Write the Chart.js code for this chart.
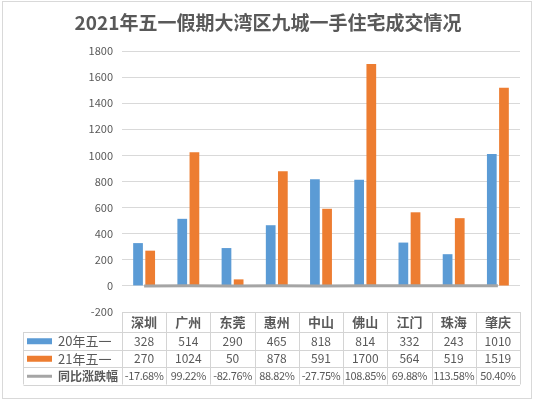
<!DOCTYPE html>
<html>
<head>
<meta charset="utf-8">
<script src="https://cdn.jsdelivr.net/npm/chart.js@4"></script>
<style>
  html, body { margin: 0; padding: 0; background: #fff; }
  #wrap { position: relative; width: 535px; height: 401px; }
</style>
</head>
<body>
<div id="wrap"><canvas id="chart" width="535" height="401"></canvas></div>
<script>
// chart data
const titleText = "2021年五一假期大湾区九城一手住宅成交情况";
const cities = ["深圳", "广州", "东莞", "惠州", "中山", "佛山", "江门", "珠海", "肇庆"];
const seriesNames = ["20年五一", "21年五一", "同比涨跌幅"];
const sales2020 = [328, 514, 290, 465, 818, 814, 332, 243, 1010];
const sales2021 = [270, 1024, 50, 878, 591, 1700, 564, 519, 1519];
const changePct = [-17.68, 99.22, -82.76, 88.82, -27.75, 108.85, 69.88, 113.58, 50.40];
const yTicks = { min: -200, max: 1800, step: 200 };

const FONT = '"Noto Sans CJK SC", "Noto Sans", sans-serif';
const TEXT = "#595959";
const BLUE = "#5b9bd5";
const ORANGE = "#ed7d31";
const GRAY = "#a5a5a5";
const LINE = "#d4d4d4";

// frame + title
const framePlugin = {
    id: "frame",
    beforeDraw(chart) {
        const ctx = chart.ctx;
        ctx.save();
        ctx.fillStyle = "#fff";
        ctx.fillRect(0, 0, chart.width, chart.height);
        ctx.strokeStyle = "#d9d9d9";
        ctx.lineWidth = 1;
        ctx.strokeRect(2.5, 1.5, 529, 397);
        ctx.fillStyle = TEXT;
        ctx.font = "bold 19px " + FONT;
        ctx.textAlign = "center";
        ctx.textBaseline = "middle";
        ctx.fillText(titleText, 268, 23);
        ctx.restore();
    }
};

// data table under the plot, columns follow the x scale
const tablePlugin = {
    id: "dataTable",
    afterDraw(chart) {
        const ctx = chart.ctx;
        const x = chart.scales.x;
        const area = chart.chartArea;
        const n = cities.length;
        const colW = (area.right - area.left) / n;
        const rows = [312, 332, 349.5, 367, 384.5];
        const legendLeft = 23.5;
        const left = area.left;
        const right = area.right;

        ctx.save();
        ctx.strokeStyle = LINE;
        ctx.lineWidth = 1;
        ctx.beginPath();
        // horizontal lines
        ctx.moveTo(left, rows[0] + 0.5); ctx.lineTo(right, rows[0] + 0.5);
        for (let r = 1; r < rows.length; r++) {
            ctx.moveTo(legendLeft, Math.round(rows[r]) + 0.5);
            ctx.lineTo(right, Math.round(rows[r]) + 0.5);
        }
        // vertical lines
        ctx.moveTo(legendLeft, rows[1]); ctx.lineTo(legendLeft, rows[4]);
        for (let i = 0; i <= n; i++) {
            const px = Math.round(left + i * colW) + 0.5;
            ctx.moveTo(px, rows[0]); ctx.lineTo(px, rows[4]);
        }
        ctx.stroke();

        ctx.textAlign = "center";
        ctx.textBaseline = "middle";
        ctx.fillStyle = TEXT;
        const rowMid = r => (rows[r] + rows[r + 1]) / 2 + 0.5;

        ctx.font = "bold 13px " + FONT;
        cities.forEach((c, i) => ctx.fillText(c, x.getPixelForValue(i), rowMid(0)));

        ctx.font = "12px " + FONT;
        sales2020.forEach((v, i) => ctx.fillText(String(v), x.getPixelForValue(i), rowMid(1)));
        sales2021.forEach((v, i) => ctx.fillText(String(v), x.getPixelForValue(i), rowMid(2)));
        ctx.font = "11px " + FONT;
        ctx.letterSpacing = "-0.4px";
        changePct.forEach((v, i) => ctx.fillText(v.toFixed(2) + "%", x.getPixelForValue(i), rowMid(3)));
        ctx.letterSpacing = "0px";

        // legend keys
        ctx.fillStyle = BLUE;
        ctx.fillRect(27, rowMid(1) - 3, 25, 6);
        ctx.fillStyle = ORANGE;
        ctx.fillRect(27, rowMid(2) - 3, 25, 6);
        ctx.strokeStyle = GRAY;
        ctx.lineWidth = 3;
        ctx.beginPath();
        ctx.moveTo(27, rowMid(3)); ctx.lineTo(52, rowMid(3));
        ctx.stroke();

        ctx.textAlign = "left";
        ctx.fillStyle = TEXT;
        ctx.font = "13px " + FONT;
        ctx.fillText(seriesNames[0], 58, rowMid(1));
        ctx.fillText(seriesNames[1], 58, rowMid(2));
        ctx.font = "bold 12px " + FONT;
        ctx.fillText(seriesNames[2], 58, rowMid(3));
        ctx.restore();
    }
};

new Chart(document.getElementById("chart"), {
    type: "bar",
    data: {
        labels: cities,
        datasets: [
            {
                label: seriesNames[0],
                data: sales2020,
                backgroundColor: BLUE,
                categoryPercentage: 0.55,
                barPercentage: 0.8,
                order: 2,
            },
            {
                label: seriesNames[1],
                data: sales2021,
                backgroundColor: ORANGE,
                categoryPercentage: 0.55,
                barPercentage: 0.8,
                order: 2,
            },
            {
                type: "line",
                label: seriesNames[2],
                data: changePct.map(v => v / 100),
                borderColor: GRAY,
                backgroundColor: GRAY,
                borderWidth: 3,
                pointRadius: 0,
                tension: 0,
                order: 1,
            },
        ],
    },
    options: {
        responsive: false,
        animation: false,
        layout: { padding: { top: 51, right: 15, bottom: 89, left: 0 } },
        plugins: {
            legend: { display: false },
            title: { display: false },
            tooltip: { enabled: false },
        },
        scales: {
            x: { display: false, offset: true },
            y: {
                min: yTicks.min,
                max: yTicks.max,
                ticks: {
                    stepSize: yTicks.step,
                    color: TEXT,
                    font: { family: FONT, size: 11 },
                    padding: 9,
                    callback: v => String(v),
                },
                grid: { color: "#d9d9d9", drawTicks: false },
                border: { display: false },
                afterFit(scale) { scale.width = 122; },
            },
        },
    },
    plugins: [framePlugin, tablePlugin],
});
</script>
</body>
</html>
